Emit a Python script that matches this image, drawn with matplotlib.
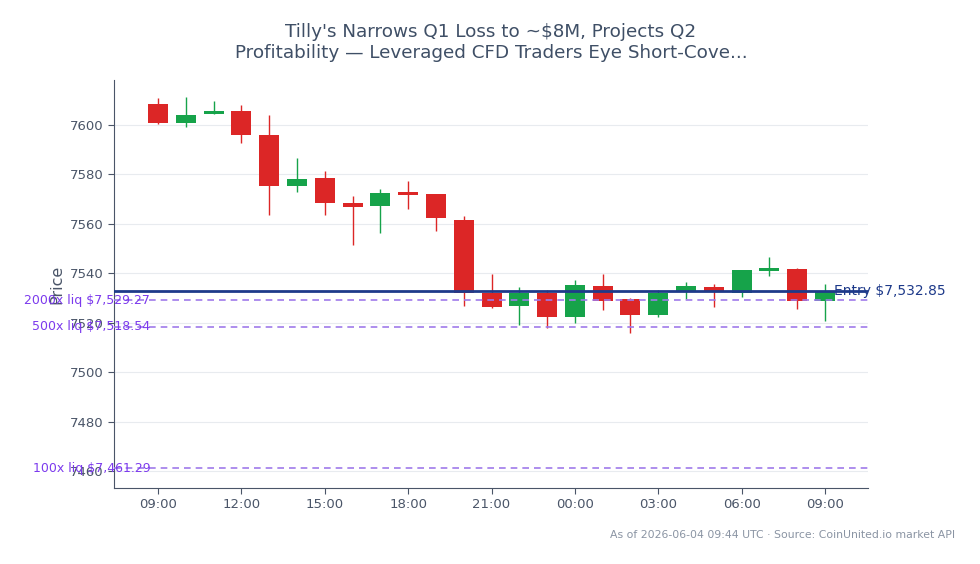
import pandas as pd
import matplotlib.pyplot as plt
import matplotlib.dates as mdates

# hourly candles, 2026-06-03 09:00 -> 2026-06-04 09:00 UTC
times = pd.date_range("2026-06-03 09:00", periods=25, freq="h")
opens = [7608.5, 7600.9, 7604.3, 7605.7, 7596.0, 7575.5, 7578.5, 7568.6, 7567.4, 7572.9,
         7572.1, 7561.6, 7532.0, 7527.0, 7532.0, 7522.6, 7534.9, 7529.7, 7523.4, 7532.6,
         7534.5, 7532.0, 7541.1, 7541.8, 7529.0]
highs = [7611.0, 7611.4, 7609.8, 7608.1, 7604.0, 7586.8, 7581.4, 7571.3, 7574.1, 7577.4,
         7572.1, 7563.2, 7539.8, 7534.7, 7533.3, 7537.4, 7539.8, 7530.1, 7533.3, 7536.7,
         7535.6, 7541.4, 7546.8, 7542.2, 7535.8]
lows = [7600.4, 7599.2, 7604.3, 7592.9, 7563.6, 7573.1, 7563.6, 7551.5, 7556.2, 7566.2,
        7557.2, 7526.9, 7525.9, 7519.2, 7517.9, 7520.1, 7525.3, 7516.1, 7522.6, 7529.6,
        7526.6, 7530.6, 7539.1, 7525.7, 7520.9]
closes = [7600.9, 7604.0, 7605.8, 7596.1, 7575.5, 7578.2, 7568.6, 7567.0, 7572.4, 7571.8,
          7562.5, 7532.0, 7526.6, 7532.2, 7522.6, 7535.4, 7529.0, 7523.4, 7532.0, 7534.9,
          7532.6, 7541.4, 7542.1, 7529.0, 7532.85]

entry = 7532.85
liq_names = ["2000x", "500x", "100x"]
liq_prices = [7529.27, 7518.54, 7461.29]

UP = "#16a34a"
DOWN = "#dc2626"
TXT = "#3f4f66"

fig = plt.figure(figsize=(9.8, 5.64), dpi=100)
ax = fig.add_axes([0.1163, 0.1348, 0.7694, 0.7234])

w = 0.72 / 24
for t, o, h, l, c in zip(times, opens, highs, lows, closes):
    x = mdates.date2num(t)
    col = UP if c >= o else DOWN
    ax.vlines(x, l, h, color=col, linewidth=1, zorder=2)
    ax.bar(x, abs(c - o), bottom=min(o, c), width=w, color=col, zorder=3)

ax.axhline(entry, color="#1e3a8a", linewidth=2, zorder=4)
ax.text(mdates.date2num(times[-1]) + 0.33 / 24, entry, f"Entry ${entry:,.2f}",
        color="#1e3a8a", fontsize=10, va="center", ha="left", clip_on=False, zorder=5)

for n, p in zip(liq_names, liq_prices):
    ax.axhline(p, color="#9f7aea", linewidth=1.2, linestyle=(0, (4, 3)), zorder=4)
    ax.text(0.048, p, f"{n} liq ${p:,.2f}", transform=ax.get_yaxis_transform(),
            color="#7c3aed", fontsize=9, va="center", ha="right", clip_on=False, zorder=5)

x0 = mdates.date2num(times[0])
x1 = mdates.date2num(times[-1])
ax.set_xlim(x0 - 1.59 / 24, x1 + 1.55 / 24)
ax.set_ylim(7453.3, 7618.2)

ax.xaxis.set_major_locator(mdates.HourLocator(byhour=range(0, 24, 3)))
ax.xaxis.set_major_formatter(mdates.DateFormatter("%H:%M"))
ax.set_yticks([7460, 7480, 7500, 7520, 7540, 7560, 7580, 7600])

ax.grid(axis="y", color="#e8ebef", linewidth=0.8, zorder=0)
ax.set_axisbelow(True)
for s in ["top", "right"]:
    ax.spines[s].set_visible(False)
for s in ["left", "bottom"]:
    ax.spines[s].set_color("#4a5568")
ax.tick_params(colors="#4a5568", labelsize=9.5, length=4)
ax.set_ylabel("Price", color="#4a5568", fontsize=11.5, labelpad=4)

fig.suptitle("Tilly's Narrows Q1 Loss to ~$8M, Projects Q2\n"
             "Profitability \u2014 Leveraged CFD Traders Eye Short-Cove...",
             x=0.501, y=0.96, color=TXT, fontsize=13.2, linespacing=1.25)
fig.text(0.975, 0.052, "As of 2026-06-04 09:44 UTC \u00b7 Source: CoinUnited.io market API",
         ha="right", va="center", color="#8a94a3", fontsize=7.8)

fig.savefig("out.png", dpi=100)
